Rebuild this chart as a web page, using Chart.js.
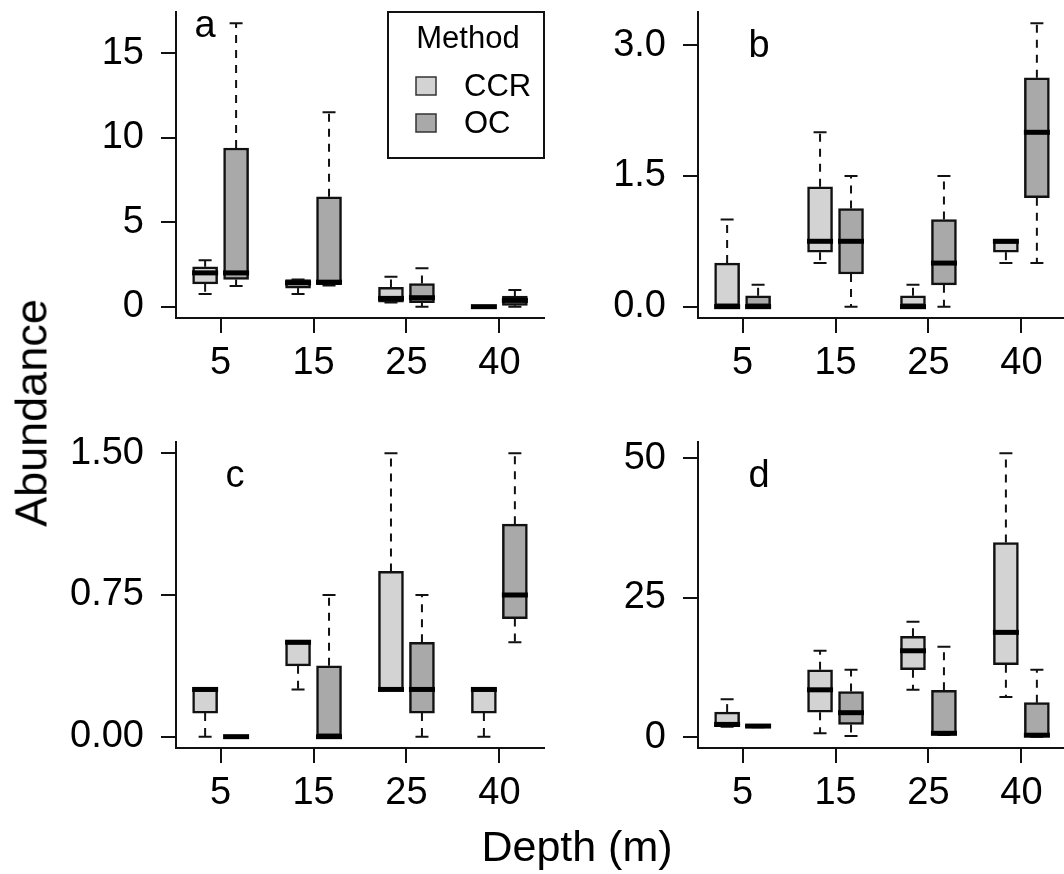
<!DOCTYPE html>
<html>
<head>
<meta charset="utf-8">
<title>Abundance by depth and method</title>
<script src="https://cdn.jsdelivr.net/npm/chart.js@4.4.1/dist/chart.umd.min.js"></script>
<style>
  html, body { margin: 0; padding: 0; background: #fff; }
  body { width: 1064px; height: 874px; position: relative; overflow: hidden;
         font-family: "Liberation Sans", Arial, Helvetica, sans-serif; color: #000; }
  canvas { position: absolute; }
  #panelA { left: 40px; top: 0; }
  #panelB { left: 562px; top: 0; }
  #panelC { left: 40px; top: 430px; }
  #panelD { left: 562px; top: 430px; }
  .axis-title { position: absolute; white-space: nowrap; line-height: 1; }
  #ylab { left: 31px; top: 413px; font-size: 45px; transform: translate(-50%, -50%) rotate(-90deg); }
  #xlab { left: 577px; top: 825px; font-size: 43px; transform: translateX(-50%); }
</style>
</head>
<body>
<canvas id="panelA" width="520" height="400"></canvas>
<canvas id="panelB" width="520" height="400"></canvas>
<canvas id="panelC" width="520" height="400"></canvas>
<canvas id="panelD" width="520" height="400"></canvas>
<div id="ylab" class="axis-title">Abundance</div>
<div id="xlab" class="axis-title">Depth (m)</div>
<script>
const depths = ['5', '15', '25', '40'];
const methods = ['CCR', 'OC'];
const ccrPos = [1, 4, 7, 10];
const ocPos = [2, 5, 8, 11];
const depthPos = [1.5, 4.5, 7.5, 10.5];

// per depth: [lower whisker, Q1, median, Q3, upper whisker]
const aCCR = [[0.75, 1.35, 2.0, 2.36, 2.75], [0.75, 1.1, 1.41, 1.61, 1.61], [0.24, 0.27, 0.49, 1.14, 1.77], [0, 0, 0, 0, 0]];
const aOC  = [[1.22, 1.61, 2.0, 9.39, 16.77], [1.26, 1.3, 1.45, 6.5, 11.5], [0, 0.24, 0.53, 1.37, 2.28], [0, 0.08, 0.37, 0.63, 0.98]];
const bCCR = [[0, 0, 0, 0.5, 1.0], [0.5, 0.625, 0.75, 1.375, 2.0], [0, 0, 0, 0.125, 0.25], [0.5, 0.625, 0.75, 0.75, 0.75]];
const bOC  = [[0, 0, 0, 0.125, 0.25], [0, 0.375, 0.75, 1.125, 1.5], [0, 0.25, 0.5, 1.0, 1.5], [0.5, 1.25, 2.0, 2.625, 3.25]];
const cCCR = [[0, 0.125, 0.25, 0.25, 0.25], [0.25, 0.375, 0.5, 0.5, 0.5], [0.25, 0.25, 0.25, 0.875, 1.5], [0, 0.125, 0.25, 0.25, 0.25]];
const cOC  = [[0, 0, 0, 0, 0], [0, 0, 0, 0.375, 0.75], [0, 0.125, 0.25, 0.5, 0.75], [0.5, 0.625, 0.75, 1.125, 1.5]];
const dCCR = [[1.9, 1.9, 2.3, 4.5, 6.8], [0.7, 4.5, 8.5, 12.1, 15.5], [8.5, 12.1, 15.5, 18.1, 20.7], [7.2, 13.0, 18.8, 34.9, 50.9]];
const dOC  = [[1.8, 1.8, 2.0, 2.2, 2.2], [0.24, 2.3, 4.4, 8.2, 12.1], [0.4, 0.4, 0.7, 8.4, 16.2], [0.1, 0.1, 0.36, 6.2, 12.1]];

const aTicks = [0, 5, 10, 15];
const aTickLabels = ['0', '5', '10', '15'];
const bTicks = [0, 1.5, 3.0];
const bTickLabels = ['0.0', '1.5', '3.0'];
const cTicks = [0, 0.75, 1.5];
const cTickLabels = ['0.00', '0.75', '1.50'];
const dTicks = [0, 25, 50];
const dTickLabels = ['0', '25', '50'];

const FONT = '"Liberation Sans", Arial, Helvetica, sans-serif';
const INK = '#111';
const fills = ['#d3d3d3', '#a9a9a9'];

// dashed whiskers with staples, drawn underneath the boxes
const whiskers = {
  id: 'whiskers',
  beforeDatasetsDraw(chart) {
    const { ctx, scales: { y } } = chart;
    ctx.save();
    ctx.strokeStyle = INK;
    ctx.lineWidth = 2;
    chart.data.datasets.forEach((ds, di) => {
      const meta = chart.getDatasetMeta(di);
      ds.stats.forEach((s, i) => {
        const cx = meta.data[i].x;
        const yLo = y.getPixelForValue(s[0]), yQ1 = y.getPixelForValue(s[1]);
        const yQ3 = y.getPixelForValue(s[3]), yHi = y.getPixelForValue(s[4]);
        ctx.setLineDash([8, 7]);
        ctx.beginPath();
        ctx.moveTo(cx, yQ3); ctx.lineTo(cx, yHi);
        ctx.moveTo(cx, yQ1); ctx.lineTo(cx, yLo);
        ctx.stroke();
        ctx.setLineDash([]);
        ctx.beginPath();
        ctx.moveTo(cx - 6.5, yHi); ctx.lineTo(cx + 6.5, yHi);
        ctx.moveTo(cx - 6.5, yLo); ctx.lineTo(cx + 6.5, yLo);
        ctx.stroke();
      });
    });
    ctx.restore();
  },
  afterDatasetsDraw(chart) {
    const { ctx, scales: { y } } = chart;
    ctx.save();
    ctx.strokeStyle = '#000';
    ctx.lineWidth = 5;
    ctx.lineCap = 'butt';
    chart.data.datasets.forEach((ds, di) => {
      const meta = chart.getDatasetMeta(di);
      ds.stats.forEach((s, i) => {
        const bar = meta.data[i];
        const ym = y.getPixelForValue(s[2]);
        ctx.beginPath();
        ctx.moveTo(bar.x - bar.width / 2 - 0.5, ym);
        ctx.lineTo(bar.x + bar.width / 2 + 0.5, ym);
        ctx.stroke();
      });
    });
    ctx.restore();
  }
};

// panel letter and the method key
const panelExtras = {
  id: 'panelExtras',
  afterDraw(chart, args, opts) {
    const { ctx, chartArea } = chart;
    ctx.save();
    ctx.fillStyle = '#000';
    ctx.font = '38px ' + FONT;
    ctx.textAlign = 'center';
    ctx.textBaseline = 'alphabetic';
    ctx.fillText(opts.letter, chartArea.left + opts.letterDx, chartArea.top + opts.letterDy);

    if (opts.key) {
      const w = 156, h = 146;
      const x0 = chartArea.right - w, y0 = chartArea.top;
      ctx.fillStyle = '#fff';
      ctx.fillRect(x0, y0, w, h);
      ctx.strokeStyle = INK;
      ctx.lineWidth = 2;
      ctx.strokeRect(x0, y0, w, h);
      ctx.fillStyle = '#000';
      ctx.font = '31px ' + FONT;
      ctx.textBaseline = 'middle';
      ctx.fillText('Method', x0 + 80, y0 + 27);
      ctx.textAlign = 'left';
      chart.data.datasets.forEach((ds, i) => {
        const yy = y0 + 74 + i * 37;
        ctx.fillStyle = ds.backgroundColor;
        ctx.fillRect(x0 + 28, yy - 9, 20, 18);
        ctx.strokeStyle = '#333';
        ctx.lineWidth = 1.5;
        ctx.strokeRect(x0 + 28, yy - 9, 20, 18);
        ctx.fillStyle = '#000';
        ctx.fillText(ds.label, x0 + 76, yy + 1);
      });
    }
    ctx.restore();
  }
};

function boxData(stats, pos) {
  return stats.map((s, i) => ({ x: pos[i], y: [s[1], s[3]] }));
}

function makePanel(id, ccr, oc, yTicks, yTickLabels, extras) {
  const all = ccr.concat(oc);
  const lo = Math.min(...all.map(s => s[0]));
  const hi = Math.max(...all.map(s => s[4]));
  const pad = 0.04 * (hi - lo);

  const axisGrid = { drawOnChartArea: false, drawTicks: true, tickLength: 15, tickWidth: 2, tickColor: INK, color: INK, lineWidth: 2 };
  const axisBorder = { display: true, color: INK, width: 2 };

  new Chart(document.getElementById(id), {
    type: 'bar',
    data: {
      datasets: [
        { label: methods[0], data: boxData(ccr, ccrPos), stats: ccr, backgroundColor: fills[0] },
        { label: methods[1], data: boxData(oc, ocPos), stats: oc, backgroundColor: fills[1] }
      ]
    },
    options: {
      responsive: false,
      animation: false,
      events: [],
      layout: { padding: { top: 12, right: 16, bottom: 0, left: 0 } },
      datasets: {
        bar: { grouped: false, barThickness: 25, borderColor: INK, borderWidth: 2.5, borderSkipped: false }
      },
      plugins: {
        legend: { display: false },
        tooltip: { enabled: false },
        panelExtras: extras
      },
      scales: {
        x: {
          type: 'linear',
          min: 0.06,
          max: 11.94,
          offset: false,
          afterBuildTicks: s => { s.ticks = depthPos.map(v => ({ value: v })); },
          afterFit: s => { s.height = 82; s.paddingLeft = 0; s.paddingRight = 0; },
          ticks: {
            autoSkip: false, maxRotation: 0, padding: 8, color: '#000',
            font: { family: FONT, size: 38 },
            callback: (v, i) => depths[i]
          },
          grid: Object.assign({ offset: false }, axisGrid),
          border: axisBorder
        },
        y: {
          type: 'linear',
          min: lo - pad,
          max: hi + pad,
          afterBuildTicks: s => { s.ticks = yTicks.map(v => ({ value: v })); },
          afterFit: s => { s.width = 136; s.paddingTop = 0; s.paddingBottom = 0; },
          ticks: {
            autoSkip: false, padding: 17, color: '#000',
            font: { family: FONT, size: 38 },
            callback: (v, i) => yTickLabels[i]
          },
          grid: axisGrid,
          border: axisBorder
        }
      }
    },
    plugins: [whiskers, panelExtras]
  });
}

makePanel('panelA', aCCR, aOC, aTicks, aTickLabels, { letter: 'a', letterDx: 29, letterDy: 25, key: true });
makePanel('panelB', bCCR, bOC, bTicks, bTickLabels, { letter: 'b', letterDx: 61, letterDy: 45, key: false });
makePanel('panelC', cCCR, cOC, cTicks, cTickLabels, { letter: 'c', letterDx: 59, letterDy: 45, key: false });
makePanel('panelD', dCCR, dOC, dTicks, dTickLabels, { letter: 'd', letterDx: 61, letterDy: 45, key: false });
</script>
</body>
</html>
